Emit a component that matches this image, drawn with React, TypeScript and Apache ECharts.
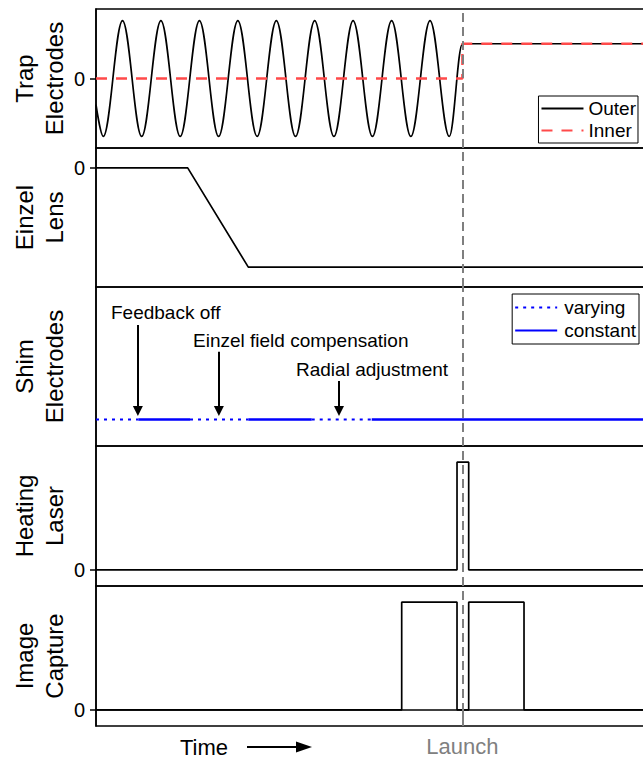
import React, { useEffect, useRef } from 'react';
import * as echarts from 'echarts';

const FONT = '"Liberation Sans", Arial, Helvetica, sans-serif';

// ---- data (time axis runs 0..100, arbitrary units) ----
const LAUNCH = 66.5;
const LAUNCH_LABEL = 'Launch';
const PANEL_NAMES = ['Trap\nElectrodes', 'Einzel\nLens', 'Shim\nElectrodes', 'Heating\nLaser', 'Image\nCapture'];
const ZERO_TICK = [0];

// Trap electrodes: outer RF (extrema), inner DC
const OUTER_T = [0, 1.32, 4.81, 8.29, 11.78, 15.28, 18.77, 22.25, 25.74, 29.24, 32.73, 36.21, 39.69, 43.18, 46.66, 50.17, 53.65, 57.14, 60.62, 64.12, 66.5, 100];
const OUTER_V = [-0.45, -1, 1, -1, 1, -1, 1, -1, 1, -1, 1, -1, 1, -1, 1, -1, 1, -1, 1, -1, 0.6, 0.6];
const INNER_T = [0, 66.5, 66.5, 100];
const INNER_V = [0, 0, 0.6, 0.6];

// Einzel lens
const EINZEL_T = [0, 16.64, 27.64, 100];
const EINZEL_V = [0, 0, -1, -1];

// Shim electrodes
const SHIM_LEVEL = 0;
const SHIM_VARYING = [[0, 7.68], [17.06, 27.64], [39.15, 50.04]];
const SHIM_CONSTANT = [[7.68, 17.06], [27.64, 39.15], [50.04, 100]];
const ANNOT_TEXT = ['Feedback off', 'Einzel field compensation', 'Radial adjustment'];
const ANNOT_ARROW_T = [7.6, 22.3, 44.1];
const ANNOT_ARROW_TOP = [0.713, 0.512, 0.29];
const ANNOT_ARROW_END = 0.065;

// Heating laser
const HEAT_T = [0, 65.52, 65.52, 67.64, 67.64, 100];
const HEAT_V = [0, 0, 1, 1, 0, 0];

// Image capture
const IMG_T = [0, 55.48, 55.48, 65.52, 65.52, 67.64, 67.64, 77.68, 77.68, 100];
const IMG_V = [0, 0, 1, 1, 0, 0, 1, 1, 0, 0];

// ---- layout ----
const GRID_TOP = [9, 148, 287, 446, 586];
const GRID_H = [139, 139, 159, 140, 140];
const Y_RANGE = [[-1.2, 1.2], [-1.2, 0.2], [-0.2, 1], [-0.15, 1.15], [-0.15, 1.15]];
const ANNOT_POS = [[111, 312], [193, 340], [296, 369]];

const zip = (t: number[], v: number[]) => t.map((x, i) => [x, v[i]]);
const segs = (s: number[][], lvl: number) =>
  s.flatMap(([a, b]) => [[a, lvl], [b, lvl], [b, '-']]);

const launchLine = {
  silent: true,
  symbol: ['none', 'none'],
  label: { show: false },
  lineStyle: { color: '#7f7f7f', type: [9, 5], width: 2 },
  data: [{ xAxis: LAUNCH }],
};

export default function App() {
  const ref = useRef<HTMLDivElement>(null);
  useEffect(() => {
    document.body.style.margin = '0';
    const chart = echarts.init(ref.current!, undefined, { renderer: 'svg' });
    const grids = GRID_TOP.map((top, i) => ({
      left: 96,
      right: -4,
      top,
      height: GRID_H[i],
      show: true,
      borderColor: '#000',
      borderWidth: 1.5,
      backgroundColor: 'transparent',
      containLabel: false,
      outerBoundsMode: 'none',
    }));
    const xAxes = GRID_TOP.map((_, i) => ({
      type: 'value',
      gridIndex: i,
      min: 0,
      max: 100,
      axisLine: { show: i === 4, lineStyle: { color: '#000', width: 1.5 } },
      axisTick:
        i === 4
          ? { show: true, customValues: [LAUNCH], length: 11, lineStyle: { color: '#7f7f7f', width: 2, type: [9, 5] } }
          : { show: false },
      axisLabel:
        i === 4
          ? {
              show: true,
              customValues: [LAUNCH],
              formatter: () => LAUNCH_LABEL,
              color: '#808080',
              fontSize: 22,
              fontFamily: FONT,
              margin: 9,
            }
          : { show: false },
      splitLine: { show: false },
    }));
    const yAxes = GRID_TOP.map((_, i) => ({
      type: 'value',
      gridIndex: i,
      min: Y_RANGE[i][0],
      max: Y_RANGE[i][1],
      name: PANEL_NAMES[i],
      nameLocation: 'middle',
      nameRotate: 90,
      nameGap: 27,
      nameMoveOverlap: false,
      nameTextStyle: { fontSize: 24, lineHeight: 30, fontFamily: FONT, color: '#000' },
      axisLine: { show: true, lineStyle: { color: '#000', width: 1.5 } },
      axisTick: i === 2 ? { show: false } : { show: true, customValues: ZERO_TICK, length: 6, lineStyle: { color: '#000', width: 1.5 } },
      axisLabel:
        i === 2
          ? { show: false }
          : { show: true, customValues: ZERO_TICK, fontSize: 20, fontFamily: FONT, color: '#000', margin: 11 },
      splitLine: { show: false },
    }));
    const black = { color: '#000', width: 1.7 };
    const series: any[] = [
      {
        name: 'Outer', type: 'line', xAxisIndex: 0, yAxisIndex: 0,
        data: zip(OUTER_T, OUTER_V), smooth: 0.36, smoothMonotone: 'x',
        symbol: 'none', showSymbol: false, lineStyle: black, itemStyle: { color: '#000' },
        markLine: launchLine,
      },
      {
        name: 'Inner', type: 'line', xAxisIndex: 0, yAxisIndex: 0,
        data: zip(INNER_T, INNER_V), symbol: 'none', showSymbol: false,
        lineStyle: { color: '#ff4a4a', width: 2.5, type: [11, 9] }, itemStyle: { color: '#ff4a4a' },
      },
      {
        name: 'Einzel', type: 'line', xAxisIndex: 1, yAxisIndex: 1,
        data: zip(EINZEL_T, EINZEL_V), symbol: 'none', showSymbol: false, lineStyle: black,
        markLine: launchLine,
      },
      {
        name: 'varying', type: 'line', xAxisIndex: 2, yAxisIndex: 2,
        data: segs(SHIM_VARYING, SHIM_LEVEL), symbol: 'none', showSymbol: false, connectNulls: false,
        lineStyle: { color: '#0000ff', width: 2, type: [3, 5] }, itemStyle: { color: '#0000ff' },
        markLine: {
          silent: true,
          label: { show: false },
          symbol: ['none', 'triangle'],
          symbolSize: 10,
          lineStyle: { color: '#000', width: 2, type: 'solid' },
          itemStyle: { color: '#000' },
          data: ANNOT_ARROW_T.map((t, i) => [
            { coord: [t, ANNOT_ARROW_TOP[i]] },
            { coord: [t, ANNOT_ARROW_END] },
          ]),
        },
      },
      {
        name: 'constant', type: 'line', xAxisIndex: 2, yAxisIndex: 2,
        data: segs(SHIM_CONSTANT, SHIM_LEVEL), symbol: 'none', showSymbol: false, connectNulls: false,
        lineStyle: { color: '#0000ff', width: 2.6 }, itemStyle: { color: '#0000ff' },
        markLine: launchLine,
      },
      {
        name: 'Heating', type: 'line', xAxisIndex: 3, yAxisIndex: 3,
        data: zip(HEAT_T, HEAT_V), symbol: 'none', showSymbol: false, lineStyle: black,
        markLine: launchLine,
      },
      {
        name: 'Image', type: 'line', xAxisIndex: 4, yAxisIndex: 4,
        data: zip(IMG_T, IMG_V), symbol: 'none', showSymbol: false, lineStyle: black,
        markLine: launchLine,
      },
    ];
    const legendBase = {
      orient: 'vertical',
      itemWidth: 42,
      itemHeight: 14,
      borderColor: '#000',
      borderWidth: 1,
      borderRadius: 0,
      backgroundColor: '#fff',
      itemStyle: { opacity: 0 },
      textStyle: { fontSize: 19, fontFamily: FONT, color: '#000' },
      selectedMode: false,
    };
    const option: any = {
      animation: false,
      backgroundColor: '#fff',
      grid: grids,
      xAxis: xAxes,
      yAxis: yAxes,
      legend: [
        { ...legendBase, data: ['Outer', 'Inner'], right: 5, top: 96, padding: [3, 2, 3, 2], itemGap: 3 },
        { ...legendBase, data: ['varying', 'constant'], right: 4, top: 294, padding: [4, 3, 4, 2], itemGap: 4,
          textStyle: { ...legendBase.textStyle, padding: [0, 0, 0, 2] } },
      ],
      series,
      graphic: [
        ...ANNOT_TEXT.map((txt, i) => ({
          type: 'text',
          x: ANNOT_POS[i][0],
          y: ANNOT_POS[i][1],
          style: { text: txt, fontSize: 19, fontFamily: FONT, fill: '#000', verticalAlign: 'middle', align: 'left' },
        })),
        {
          type: 'text', x: 180, y: 747,
          style: { text: 'Time', fontSize: 22, fontFamily: FONT, fill: '#000', verticalAlign: 'middle', align: 'left' },
        },
        { type: 'line', shape: { x1: 247, y1: 747, x2: 300, y2: 747 }, style: { stroke: '#000', lineWidth: 2 } },
        { type: 'polygon', shape: { points: [[296, 741.5], [312, 747], [296, 752.5]] }, style: { fill: '#000' } },
      ],
    };
    chart.setOption(option);
    return () => chart.dispose();
  }, []);
  return <div ref={ref} style={{ width: 643, height: 760 }} />;
}
